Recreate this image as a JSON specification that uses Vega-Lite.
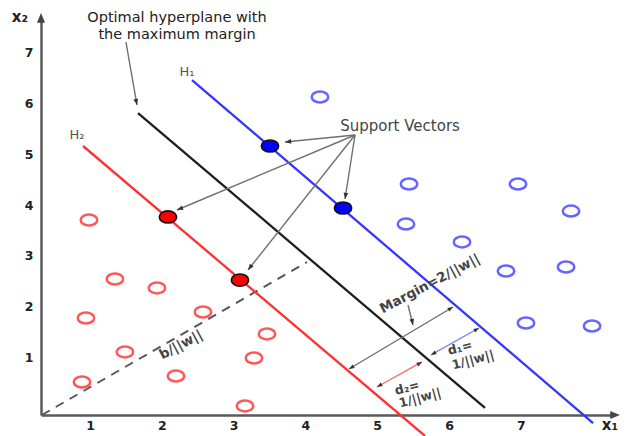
{
  "$schema": "https://vega.github.io/schema/vega-lite/v6.json",
  "width": 571,
  "height": 397,
  "autosize": {"type": "none"},
  "padding": {"left": 41, "top": 18, "right": 15, "bottom": 21},
  "background": "white",
  "config": {"view": {"stroke": null}, "font": "DejaVu Sans"},
  "datasets": {
    "bounds": [
      {"name": "H1", "x": 2.421, "y": 6.451, "x2": 8.006, "y2": -0.275},
      {"name": "hyperplane", "x": 1.669, "y": 5.804, "x2": 6.501, "y2": 0.02},
      {"name": "H2", "x": 0.903, "y": 5.157, "x2": 5.666, "y2": -0.529}
    ],
    "notes": [
      {"name": "pointer", "x": 1.501, "y": 7.196, "x2": 1.655, "y2": 5.961},
      {"name": "pointer", "x": 4.691, "y": 5.373, "x2": 3.716, "y2": 5.235},
      {"name": "pointer", "x": 4.691, "y": 5.373, "x2": 4.552, "y2": 4.118},
      {"name": "pointer", "x": 4.691, "y": 5.373, "x2": 2.212, "y2": 3.902},
      {"name": "pointer", "x": 4.691, "y": 5.373, "x2": 3.201, "y2": 2.725},
      {"name": "pointer", "x": 4.607, "y": 0.784, "x2": 6.056, "y2": 2.0},
      {"name": "pointer", "x": 5.429, "y": 2.039, "x2": 5.499, "y2": 1.647},
      {"name": "d1", "x": 5.749, "y": 1.059, "x2": 6.418, "y2": 1.588},
      {"name": "d2", "x": 4.997, "y": 0.431, "x2": 5.624, "y2": 0.922}
    ],
    "points": [
      {"x": 0.986, "y": 3.706, "cls": "red", "sv": false},
      {"x": 1.348, "y": 2.549, "cls": "red", "sv": false},
      {"x": 1.933, "y": 2.373, "cls": "red", "sv": false},
      {"x": 0.944, "y": 1.784, "cls": "red", "sv": false},
      {"x": 2.574, "y": 1.902, "cls": "red", "sv": false},
      {"x": 3.465, "y": 1.471, "cls": "red", "sv": false},
      {"x": 1.487, "y": 1.118, "cls": "red", "sv": false},
      {"x": 3.284, "y": 1.0, "cls": "red", "sv": false},
      {"x": 0.889, "y": 0.529, "cls": "red", "sv": false},
      {"x": 2.198, "y": 0.647, "cls": "red", "sv": false},
      {"x": 3.159, "y": 0.059, "cls": "red", "sv": false},
      {"x": 2.086, "y": 3.765, "cls": "red", "sv": true},
      {"x": 3.089, "y": 2.529, "cls": "red", "sv": true},
      {"x": 4.203, "y": 6.118, "cls": "blue", "sv": false},
      {"x": 5.443, "y": 4.412, "cls": "blue", "sv": false},
      {"x": 6.961, "y": 4.412, "cls": "blue", "sv": false},
      {"x": 7.699, "y": 3.882, "cls": "blue", "sv": false},
      {"x": 5.401, "y": 3.627, "cls": "blue", "sv": false},
      {"x": 6.181, "y": 3.275, "cls": "blue", "sv": false},
      {"x": 6.794, "y": 2.706, "cls": "blue", "sv": false},
      {"x": 7.63, "y": 2.784, "cls": "blue", "sv": false},
      {"x": 7.072, "y": 1.686, "cls": "blue", "sv": false},
      {"x": 7.992, "y": 1.627, "cls": "blue", "sv": false},
      {"x": 3.507, "y": 5.157, "cls": "blue", "sv": true},
      {"x": 4.524, "y": 3.941, "cls": "blue", "sv": true}
    ]
  },
  "encoding": {
    "x": {
      "field": "x", "type": "quantitative",
      "scale": {"domain": [0.318, 8.27], "nice": false, "zero": false},
      "axis": {"values": [1, 2, 3, 4, 5, 6, 7], "title": null, "grid": false, "ticks": false,
        "domainColor": "#5a5a5a", "domainWidth": 2.5, "labelFont": "DejaVu Sans", "labelFontWeight": "bold",
        "labelFontSize": 12.5, "labelColor": "#222", "labelPadding": 4}
    },
    "y": {
      "field": "y", "type": "quantitative",
      "scale": {"domain": [-0.118, 7.667], "nice": false, "zero": false},
      "axis": {"values": [1, 2, 3, 4, 5, 6, 7], "title": null, "grid": false, "ticks": false,
        "domainColor": "#5a5a5a", "domainWidth": 2.5, "labelFont": "DejaVu Sans", "labelFontWeight": "bold",
        "labelFontSize": 12.5, "labelColor": "#222", "labelPadding": 8}
    }
  },
  "layer": [
    {
      "data": {"values": [{"x": 0.331, "y": -0.118, "x2": 4.022, "y2": 2.882}]},
      "mark": {"type": "rule", "strokeDash": [9, 7], "color": "#555", "strokeWidth": 2},
      "encoding": {"x2": {"field": "x2"}, "y2": {"field": "y2"}}
    },
    {
      "data": {"name": "bounds"},
      "mark": {"type": "rule", "strokeWidth": 2.3},
      "encoding": {
        "x2": {"field": "x2"}, "y2": {"field": "y2"},
        "color": {"field": "name", "type": "nominal", "legend": null,
          "scale": {"domain": ["H1", "hyperplane", "H2", "pointer", "d1", "d2"],
            "range": ["#3535ff", "#1e1e1e", "#ff3030", "#707070", "#8080ff", "#ff6868"]}}
      }
    },
    {
      "data": {"name": "notes"},
      "mark": {"type": "rule", "strokeWidth": 1.4},
      "encoding": {
        "x2": {"field": "x2"}, "y2": {"field": "y2"},
        "color": {"field": "name", "type": "nominal", "legend": null,
          "scale": {"domain": ["H1", "hyperplane", "H2", "pointer", "d1", "d2"],
            "range": ["#3535ff", "#1e1e1e", "#ff3030", "#707070", "#8080ff", "#ff6868"]}}
      }
    },
    {
      "data": {"values": [{"x": 1.655, "y": 5.961}, {"x": 5.499, "y": 1.647}]},
      "mark": {"type": "point", "shape": "M0,0L-0.5,1.3L0.5,1.3Z", "size": 90, "filled": true, "color": "#333", "opacity": 1, "angle": 168}
    },
    {
      "data": {"values": [{"x": 3.716, "y": 5.235}]},
      "mark": {"type": "point", "shape": "M0,0L-0.5,1.3L0.5,1.3Z", "size": 90, "filled": true, "color": "#333", "opacity": 1, "angle": 264}
    },
    {
      "data": {"values": [{"x": 4.552, "y": 4.118}]},
      "mark": {"type": "point", "shape": "M0,0L-0.5,1.3L0.5,1.3Z", "size": 90, "filled": true, "color": "#333", "opacity": 1, "angle": 189}
    },
    {
      "data": {"values": [{"x": 2.212, "y": 3.902}]},
      "mark": {"type": "point", "shape": "M0,0L-0.5,1.3L0.5,1.3Z", "size": 90, "filled": true, "color": "#333", "opacity": 1, "angle": 247}
    },
    {
      "data": {"values": [{"x": 3.201, "y": 2.725}]},
      "mark": {"type": "point", "shape": "M0,0L-0.5,1.3L0.5,1.3Z", "size": 90, "filled": true, "color": "#333", "opacity": 1, "angle": 218}
    },
    {
      "data": {"values": [{"x": 6.056, "y": 2.0}, {"x": 6.418, "y": 1.588}, {"x": 5.624, "y": 0.922}]},
      "mark": {"type": "point", "shape": "M0,0L-0.5,1.3L0.5,1.3Z", "size": 70, "filled": true, "color": "#333", "opacity": 1, "angle": 60}
    },
    {
      "data": {"values": [{"x": 4.607, "y": 0.784}, {"x": 5.749, "y": 1.059}, {"x": 4.997, "y": 0.431}]},
      "mark": {"type": "point", "shape": "M0,0L-0.5,1.3L0.5,1.3Z", "size": 70, "filled": true, "color": "#333", "opacity": 1, "angle": 240}
    },
    {
      "data": {"values": [{"x": 0.318, "y": 7.765}]},
      "mark": {"type": "point", "shape": "M0,0L-0.5,1.2L0.5,1.2Z", "size": 260, "filled": true, "color": "#444", "opacity": 1, "angle": 0}
    },
    {
      "data": {"values": [{"x": 8.38, "y": -0.118}]},
      "mark": {"type": "point", "shape": "M0,0L-0.5,1.2L0.5,1.2Z", "size": 260, "filled": true, "color": "#444", "opacity": 1, "angle": 90}
    },
    {
      "data": {"name": "points"},
      "transform": [{"filter": "!datum.sv"}],
      "mark": {"type": "point", "shape": "M-1,0A1,0.66,0,1,0,1,0A1,0.66,0,1,0,-1,0Z", "size": 272, "filled": false, "strokeWidth": 2.5, "opacity": 0.85},
      "encoding": {
        "stroke": {"field": "cls", "type": "nominal", "legend": null,
          "scale": {"domain": ["red", "blue"], "range": ["#ff3a3a", "#4a4aff"]}}
      }
    },
    {
      "data": {"name": "points"},
      "transform": [{"filter": "datum.sv"}],
      "mark": {"type": "point", "shape": "M-1,0A1,0.7,0,1,0,1,0A1,0.7,0,1,0,-1,0Z", "size": 300, "filled": true, "stroke": "#111", "strokeWidth": 1.6, "opacity": 1},
      "encoding": {
        "fill": {"field": "cls", "type": "nominal", "legend": null,
          "scale": {"domain": ["red", "blue"], "range": ["#ff0000", "#0000ff"]}}
      }
    },
    {
      "data": {"values": [
        {"x": 2.212, "y": 7.667, "label": "Optimal hyperplane with"},
        {"x": 2.212, "y": 7.34, "label": "the maximum margin"}
      ]},
      "mark": {"type": "text", "font": "DejaVu Sans", "fontSize": 14.5, "color": "#222", "align": "center", "baseline": "middle"},
      "encoding": {"text": {"field": "label"}}
    },
    {
      "data": {"values": [{"x": 5.318, "y": 5.549, "label": "Support Vectors"}]},
      "mark": {"type": "text", "font": "DejaVu Sans", "fontSize": 15, "color": "#444", "align": "center", "baseline": "middle"},
      "encoding": {"text": {"field": "label"}}
    },
    {
      "data": {"values": [
        {"x": 2.351, "y": 6.608, "label": "H₁"},
        {"x": 0.819, "y": 5.373, "label": "H₂"}
      ]},
      "mark": {"type": "text", "font": "DejaVu Sans", "fontSize": 13, "color": "#555", "align": "center", "baseline": "middle"},
      "encoding": {"text": {"field": "label"}}
    },
    {
      "data": {"values": [
        {"x": 0.025, "y": 7.686, "label": "x₂"},
        {"x": 8.24, "y": -0.32, "label": "x₁"}
      ]},
      "mark": {"type": "text", "font": "DejaVu Sans", "fontSize": 15, "fontWeight": "bold", "color": "#222", "align": "center", "baseline": "middle"},
      "encoding": {"text": {"field": "label"}}
    },
    {
      "data": {"values": [
        {"x": 2.267, "y": 1.255, "label": "b/||w||"},
        {"x": 5.735, "y": 2.451, "label": "Margin=2/||w||"}
      ]},
      "mark": {"type": "text", "font": "DejaVu Sans", "fontSize": 13.5, "fontWeight": "bold", "color": "#444", "align": "center", "baseline": "middle", "angle": -28},
      "encoding": {"text": {"field": "label"}}
    },
    {
      "data": {"values": [
        {"x": 6.153, "y": 1.196, "label": "d₁="},
        {"x": 6.334, "y": 0.961, "label": "1/||w||"},
        {"x": 5.415, "y": 0.412, "label": "d₂="},
        {"x": 5.596, "y": 0.216, "label": "1/||w||"}
      ]},
      "mark": {"type": "text", "font": "DejaVu Sans", "fontSize": 12.5, "fontWeight": "bold", "color": "#444", "align": "center", "baseline": "middle", "angle": -15},
      "encoding": {"text": {"field": "label"}}
    }
  ]
}
